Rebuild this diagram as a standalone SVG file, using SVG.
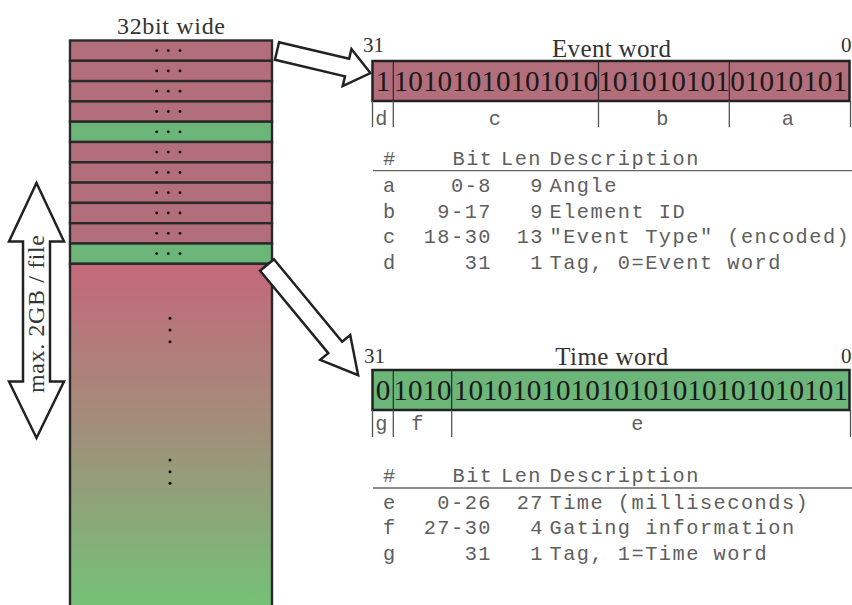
<svg xmlns="http://www.w3.org/2000/svg" width="852" height="605" viewBox="0 0 852 605">
<style>
.serif{font-family:"Liberation Serif",serif;fill:#333}
.mono{font-family:"Liberation Mono",monospace;font-size:20.3px;letter-spacing:1.5px;fill:#5e5e5e}
.end{text-anchor:end}
.bits{font-family:"Liberation Serif",serif;font-size:29.2px;fill:#1a1a1a;text-anchor:middle}
.row{stroke:#2a2a2a;stroke-width:2.4}
.pink{fill:#b36e7c}
.green{fill:#6cb67a}
.tick{stroke:#555;stroke-width:1.3}
.div{stroke:#2a2a2a;stroke-width:1.2}
.rule{stroke:#666;stroke-width:1.3}
.blk{fill:#fff;stroke:#222;stroke-width:2.5;stroke-linejoin:miter}
.dot{fill:#111}
</style>
<defs>
<linearGradient id="grad" x1="0" y1="263.8" x2="0" y2="605" gradientUnits="userSpaceOnUse">
<stop offset="0" stop-color="#c4687b"/>
<stop offset="0.5" stop-color="#a0907a"/>
<stop offset="1" stop-color="#74c176"/>
</linearGradient>
</defs>
<rect width="852" height="605" fill="#fff"/>

<g id="column">
<text class="serif" x="171" y="34" font-size="24" text-anchor="middle" textLength="108">32bit wide</text>
<rect class="row pink" x="70" y="40.5" width="202" height="20.3"/>
<rect class="row pink" x="70" y="60.8" width="202" height="20.3"/>
<rect class="row pink" x="70" y="81.1" width="202" height="20.3"/>
<rect class="row pink" x="70" y="101.4" width="202" height="20.3"/>
<rect class="row green" x="70" y="121.7" width="202" height="20.3"/>
<rect class="row pink" x="70" y="142.0" width="202" height="20.3"/>
<rect class="row pink" x="70" y="162.3" width="202" height="20.3"/>
<rect class="row pink" x="70" y="182.6" width="202" height="20.3"/>
<rect class="row pink" x="70" y="202.9" width="202" height="20.3"/>
<rect class="row pink" x="70" y="223.2" width="202" height="20.3"/>
<rect class="row green" x="70" y="243.5" width="202" height="20.3"/>
<rect class="row" x="70" y="263.8" width="202" height="350" fill="url(#grad)"/>
<g class="dot">
<circle cx="156.7" cy="50.6" r="1.4"/><circle cx="168.3" cy="50.6" r="1.4"/><circle cx="180" cy="50.6" r="1.4"/>
<circle cx="156.7" cy="70.9" r="1.4"/><circle cx="168.3" cy="70.9" r="1.4"/><circle cx="180" cy="70.9" r="1.4"/>
<circle cx="156.7" cy="91.2" r="1.4"/><circle cx="168.3" cy="91.2" r="1.4"/><circle cx="180" cy="91.2" r="1.4"/>
<circle cx="156.7" cy="111.5" r="1.4"/><circle cx="168.3" cy="111.5" r="1.4"/><circle cx="180" cy="111.5" r="1.4"/>
<circle cx="156.7" cy="131.8" r="1.4"/><circle cx="168.3" cy="131.8" r="1.4"/><circle cx="180" cy="131.8" r="1.4"/>
<circle cx="156.7" cy="152.1" r="1.4"/><circle cx="168.3" cy="152.1" r="1.4"/><circle cx="180" cy="152.1" r="1.4"/>
<circle cx="156.7" cy="172.4" r="1.4"/><circle cx="168.3" cy="172.4" r="1.4"/><circle cx="180" cy="172.4" r="1.4"/>
<circle cx="156.7" cy="192.7" r="1.4"/><circle cx="168.3" cy="192.7" r="1.4"/><circle cx="180" cy="192.7" r="1.4"/>
<circle cx="156.7" cy="213.0" r="1.4"/><circle cx="168.3" cy="213.0" r="1.4"/><circle cx="180" cy="213.0" r="1.4"/>
<circle cx="156.7" cy="233.3" r="1.4"/><circle cx="168.3" cy="233.3" r="1.4"/><circle cx="180" cy="233.3" r="1.4"/>
<circle cx="156.7" cy="253.6" r="1.4"/><circle cx="168.3" cy="253.6" r="1.4"/><circle cx="180" cy="253.6" r="1.4"/>
<circle cx="170" cy="318.3" r="1.5"/><circle cx="170" cy="330" r="1.5"/><circle cx="170" cy="341.7" r="1.5"/>
<circle cx="170" cy="460" r="1.5"/><circle cx="170" cy="471.7" r="1.5"/><circle cx="170" cy="483.3" r="1.5"/>
</g>
</g>

<g id="size-arrow">
<polygon class="blk" points="36.5,183 64,241.5 50,241.5 50,381.5 64,381.5 36.5,438 9,381.5 23,381.5 23,241.5 9,241.5"/>
<text class="serif" transform="translate(44,314) rotate(-90)" font-size="24" text-anchor="middle" textLength="158">max. 2GB / file</text>
</g>

<g id="event-word">
<text class="serif" x="363" y="52" font-size="21">31</text>
<text class="serif" x="611.5" y="57" font-size="25" text-anchor="middle" textLength="119">Event word</text>
<text class="serif" x="841" y="52" font-size="21">0</text>
<rect x="372.5" y="61" width="477" height="40" class="pink" stroke="#222" stroke-width="2.5"/>
<line class="div" x1="393.3" y1="61" x2="393.3" y2="101"/>
<line class="div" x1="598.5" y1="61" x2="598.5" y2="101"/>
<line class="div" x1="729.3" y1="61" x2="729.3" y2="101"/>
<text class="bits" x="383" y="91">1</text>
<text class="bits" x="495.9" y="91">10101010101010</text>
<text class="bits" x="663.9" y="91">101010101</text>
<text class="bits" x="788.6" y="91">01010101</text>
<line class="tick" x1="372.5" y1="101" x2="372.5" y2="127"/>
<line class="tick" x1="393.3" y1="101" x2="393.3" y2="127"/>
<line class="tick" x1="598.5" y1="101" x2="598.5" y2="127"/>
<line class="tick" x1="729.3" y1="101" x2="729.3" y2="127"/>
<line class="tick" x1="850.5" y1="101" x2="850.5" y2="127"/>
<g class="mono" text-anchor="middle">
<text x="382" y="125">d</text>
<text x="495.5" y="125">c</text>
<text x="663" y="125">b</text>
<text x="788.5" y="125">a</text>
</g>
</g>

<g id="event-table" class="mono">
<text x="383" y="164.5">#</text>
<text x="452.5" y="164.5">Bit</text>
<text x="501" y="164.5">Len</text>
<text x="549.5" y="164.5">Description</text>
<line class="rule" x1="373" y1="170.7" x2="852" y2="170.7"/>
<text x="383" y="192">a</text><text class="end" x="492" y="192">0-8</text><text class="end" x="544" y="192">9</text><text x="549.5" y="192">Angle</text>
<text x="383" y="217.5">b</text><text class="end" x="492" y="217.5">9-17</text><text class="end" x="544" y="217.5">9</text><text x="549.5" y="217.5">Element ID</text>
<text x="383" y="243">c</text><text class="end" x="492" y="243">18-30</text><text class="end" x="544" y="243">13</text><text x="549.5" y="243">"Event Type" (encoded)</text>
<text x="383" y="268.5">d</text><text class="end" x="492" y="268.5">31</text><text class="end" x="544" y="268.5">1</text><text x="549.5" y="268.5">Tag, 0=Event word</text>
</g>

<g id="time-word">
<text class="serif" x="364" y="363" font-size="21">31</text>
<text class="serif" x="611.7" y="365" font-size="25" text-anchor="middle" textLength="113">Time word</text>
<text class="serif" x="841" y="363" font-size="21">0</text>
<rect x="372.5" y="370" width="477" height="40" class="green" stroke="#222" stroke-width="2.5"/>
<line class="div" x1="393.3" y1="370" x2="393.3" y2="410"/>
<line class="div" x1="451.7" y1="370" x2="451.7" y2="410"/>
<text class="bits" x="383" y="400">0</text>
<text class="bits" x="422.5" y="400">1010</text>
<text class="bits" x="650.8" y="400">101010101010101010101010101</text>
<line class="tick" x1="372.5" y1="410" x2="372.5" y2="437"/>
<line class="tick" x1="393.3" y1="410" x2="393.3" y2="437"/>
<line class="tick" x1="451.7" y1="410" x2="451.7" y2="437"/>
<line class="tick" x1="850.5" y1="410" x2="850.5" y2="437"/>
<g class="mono" text-anchor="middle">
<text x="382" y="430">g</text>
<text x="418" y="430">f</text>
<text x="638" y="430">e</text>
</g>
</g>

<g id="time-table" class="mono">
<text x="383" y="481.5">#</text>
<text x="452.5" y="481.5">Bit</text>
<text x="501" y="481.5">Len</text>
<text x="549.5" y="481.5">Description</text>
<line class="rule" x1="373" y1="488" x2="852" y2="488"/>
<text x="383" y="508.5">e</text><text class="end" x="492" y="508.5">0-26</text><text class="end" x="544" y="508.5">27</text><text x="549.5" y="508.5">Time (milliseconds)</text>
<text x="383" y="534">f</text><text class="end" x="492" y="534">27-30</text><text class="end" x="544" y="534">4</text><text x="549.5" y="534">Gating information</text>
<text x="383" y="559.5">g</text><text class="end" x="492" y="559.5">31</text><text class="end" x="544" y="559.5">1</text><text x="549.5" y="559.5">Tag, 1=Time word</text>
</g>

<g id="connectors">
<polygon class="blk" transform="translate(277,51) rotate(13.3)" points="0,-9 72,-9 72,-19 96,0 72,19 72,9 0,9"/>
<polygon class="blk" transform="translate(267,265) rotate(50.4)" points="0,-9 107,-9 107,-19.5 143,0 107,19.5 107,9 0,9"/>
</g>
</svg>
